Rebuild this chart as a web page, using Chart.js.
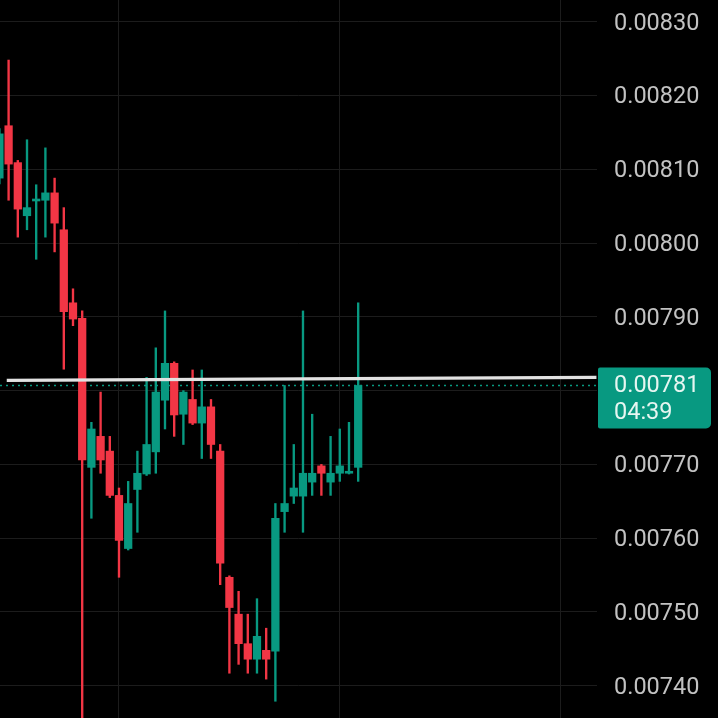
<!DOCTYPE html>
<html>
<head>
<meta charset="utf-8">
<script src="https://cdn.jsdelivr.net/npm/chart.js@4.4.1/dist/chart.umd.min.js"></script>
<style>
  html, body { margin: 0; padding: 0; background: #000; }
  #wrap { width: 718px; height: 718px; }
</style>
</head>
<body>
<div id="wrap"><canvas id="chart"></canvas></div>
<script>
// candle data (index 0 = leftmost, partly cut off)
const opens = [0.008088, 0.008159, 0.008109, 0.008037, 0.008057, 0.008058, 0.008068, 0.008018, 0.007919, 0.007898,
  0.007696, 0.007738, 0.007718, 0.007658, 0.007586, 0.007666, 0.007687, 0.007717, 0.007787, 0.007837,
  0.007768, 0.007788, 0.007756, 0.007778, 0.007718, 0.007547, 0.007497, 0.007457, 0.007436, 0.007448,
  0.007447, 0.007636, 0.007657, 0.007657, 0.007676, 0.007698, 0.007676, 0.007688, 0.007688, 0.007696];
const highs = [0.008155, 0.008248, 0.008112, 0.008140, 0.008079, 0.008129, 0.008088, 0.008048, 0.007938, 0.007908,
  0.007757, 0.007798, 0.007738, 0.007668, 0.007677, 0.007718, 0.007818, 0.007858, 0.007908, 0.007839,
  0.007800, 0.007828, 0.007828, 0.007788, 0.007727, 0.007549, 0.007528, 0.007497, 0.007518, 0.007478,
  0.007647, 0.007807, 0.007727, 0.007908, 0.007768, 0.007700, 0.007738, 0.007748, 0.007757, 0.007919];
const lows = [0.008080, 0.008058, 0.008008, 0.008018, 0.007978, 0.008008, 0.007988, 0.007829, 0.007888, 0.007350,
  0.007627, 0.007688, 0.007655, 0.007547, 0.007584, 0.007608, 0.007685, 0.007688, 0.007748, 0.007738,
  0.007727, 0.007754, 0.007708, 0.007708, 0.007537, 0.007417, 0.007429, 0.007417, 0.007417, 0.007409,
  0.007379, 0.007608, 0.007647, 0.007608, 0.007658, 0.007658, 0.007658, 0.007677, 0.007687, 0.007677];
const closes = [0.008148, 0.008107, 0.008046, 0.008048, 0.008059, 0.008068, 0.008027, 0.007907, 0.007897, 0.007706,
  0.007748, 0.007706, 0.007658, 0.007597, 0.007647, 0.007688, 0.007727, 0.007798, 0.007837, 0.007767,
  0.007798, 0.007756, 0.007778, 0.007727, 0.007566, 0.007506, 0.007457, 0.007436, 0.007467, 0.007436,
  0.007627, 0.007647, 0.007668, 0.007688, 0.007688, 0.007688, 0.007688, 0.007698, 0.007689, 0.007807];

// drawn trend line (start / end in candle index and price)
const trendX = [0.8, 64.9];
const trendY = [0.0078140, 0.0078180];

const priceTicks = [0.0074, 0.0075, 0.0076, 0.0077, 0.0078, 0.0079, 0.0080, 0.0081, 0.0082, 0.0083];
const timeGrid = [13, 37, 61];
const countdown = "04:39";

const UP = "#089981";
const DOWN = "#f23645";
const idx = opens.map((_, i) => i);
const colors = idx.map(i => closes[i] >= opens[i] ? UP : DOWN);
const lastClose = closes[closes.length - 1];

// dotted last price line + price box on the axis
const lastPrice = {
  id: "lastPrice",
  beforeDatasetsDraw(chart) {
    const { ctx, chartArea, scales } = chart;
    const y = scales.y.getPixelForValue(lastClose);
    ctx.save();
    ctx.strokeStyle = UP;
    ctx.lineWidth = 1.6;
    ctx.setLineDash([2, 4]);
    ctx.beginPath();
    ctx.moveTo(chartArea.left, y);
    ctx.lineTo(chartArea.right, y);
    ctx.stroke();
    ctx.restore();
  },
  afterDraw(chart) {
    const { ctx, chartArea, scales } = chart;
    const y = scales.y.getPixelForValue(lastClose);
    const x0 = chartArea.right + 1;
    const top = y - 18;
    ctx.save();
    ctx.fillStyle = UP;
    ctx.beginPath();
    ctx.roundRect(x0, top, 113, 61, [2, 5, 5, 2]);
    ctx.fill();
    ctx.fillStyle = "#e6f6f1";
    ctx.font = "23.5px Roboto";
    ctx.textBaseline = "middle";
    ctx.textAlign = "left";
    ctx.fillText(lastClose.toFixed(5), x0 + 16, y + 1);
    ctx.fillText(countdown, x0 + 16, y + 28);
    ctx.restore();
  }
};

new Chart(document.getElementById("chart"), {
  type: "bar",
  data: {
    datasets: [
      {
        label: "wicks",
        data: idx.map(i => ({ x: i, y: [lows[i], highs[i]] })),
        backgroundColor: colors,
        barThickness: 1.7,
        grouped: false,
        order: 2
      },
      {
        label: "bodies",
        data: idx.map(i => ({ x: i, y: [opens[i], closes[i]] })),
        backgroundColor: colors,
        barThickness: 7.6,
        minBarLength: 2,
        grouped: false,
        order: 1
      },
      {
        type: "line",
        label: "trend",
        data: trendX.map((x, i) => ({ x: x, y: trendY[i] })),
        borderColor: "#e2e2e2",
        borderWidth: 3.2,
        pointRadius: 0,
        order: -1
      }
    ]
  },
  options: {
    responsive: true,
    maintainAspectRatio: false,
    animation: false,
    layout: { padding: 0 },
    plugins: { legend: { display: false }, tooltip: { enabled: false } },
    scales: {
      x: {
        type: "linear",
        min: 0.065,
        max: 64.96,
        offset: false,
        grid: { color: "#1c1c1c", offset: false, drawTicks: false, tickLength: 0 },
        border: { display: false },
        ticks: { display: false },
        afterBuildTicks: axis => { axis.ticks = timeGrid.map(v => ({ value: v })); },
        afterFit: axis => { axis.height = 0; axis.paddingLeft = 0; axis.paddingRight = 0; }
      },
      y: {
        position: "right",
        min: 0.0073563,
        max: 0.0083294,
        grid: { color: "#1c1c1c", drawTicks: false, tickLength: 0 },
        border: { display: false },
        ticks: {
          color: "#c2c2c2",
          font: { family: "Roboto", size: 23.5 },
          padding: 17,
          labelOffset: 2,
          callback: v => v.toFixed(5)
        },
        afterBuildTicks: axis => { axis.ticks = priceTicks.map(v => ({ value: v })); },
        afterFit: axis => { axis.width = 121; axis.paddingTop = 0; axis.paddingBottom = 0; }
      }
    }
  },
  plugins: [lastPrice]
});
</script>
</body>
</html>
